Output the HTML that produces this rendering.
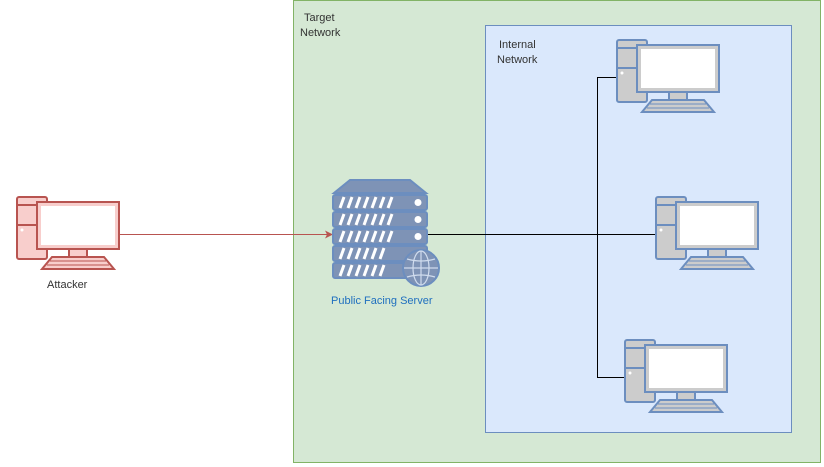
<!DOCTYPE html>
<html><head><meta charset="utf-8"><style>
body{margin:0;background:#fff;width:824px;height:467px;overflow:hidden}
svg{display:block}
text{font-family:"Liberation Sans",Arial,sans-serif;font-size:11px}
</style></head><body>
<svg width="824" height="467" viewBox="0 0 824 467" xmlns="http://www.w3.org/2000/svg">
<defs>
<g id="pcb" stroke="#6c8ebf" stroke-width="2">
 <rect x="0" y="0" width="30" height="62" rx="2" fill="#cccccc"/>
 <line x1="0" y1="8" x2="30" y2="8"/><line x1="0" y1="28" x2="30" y2="28"/>
 <circle cx="5" cy="33" r="1.5" fill="#fff" stroke="none"/>
 <rect x="20" y="5" width="82" height="47" fill="#cccccc"/>
 <rect x="24" y="9" width="74" height="39" fill="#fff" stroke="none"/>
 <rect x="52" y="52" width="18" height="8" fill="#cccccc"/>
 <polygon points="35,60 87,60 97,72 25,72" fill="#cccccc"/>
 <line x1="33" y1="64" x2="89" y2="64" stroke-width="1"/><line x1="30" y1="68" x2="92" y2="68" stroke-width="1"/>
</g>
<g id="pcr" stroke="#b85450" stroke-width="2">
 <rect x="0" y="0" width="30" height="62" rx="2" fill="#f8cecc"/>
 <line x1="0" y1="8" x2="30" y2="8"/><line x1="0" y1="28" x2="30" y2="28"/>
 <circle cx="5" cy="33" r="1.5" fill="#fff" stroke="none"/>
 <rect x="20" y="5" width="82" height="47" fill="#f8cecc"/>
 <rect x="24" y="9" width="74" height="39" fill="#fff" stroke="none"/>
 <rect x="52" y="52" width="18" height="8" fill="#f8cecc"/>
 <polygon points="35,60 87,60 97,72 25,72" fill="#f8cecc"/>
 <line x1="33" y1="64" x2="89" y2="64" stroke-width="1"/><line x1="30" y1="68" x2="92" y2="68" stroke-width="1"/>
</g>
</defs>
<rect x="293.5" y="0.5" width="527" height="462" fill="#d5e8d4" stroke="#82b366"/>
<text x="304" y="21" fill="#333">Target</text><text x="300" y="36" fill="#333">Network</text>
<rect x="485.5" y="25.5" width="306" height="407" fill="#dae8fc" stroke="#6c8ebf"/>
<text x="499" y="48" fill="#333">Internal</text><text x="497" y="63" fill="#333">Network</text>

<g fill="none" stroke="#000" stroke-width="1">
<line x1="428" y1="234.5" x2="597" y2="234.5"/>
<line x1="597.5" y1="77" x2="597.5" y2="377"/>
<line x1="597" y1="77.5" x2="617" y2="77.5"/>
<line x1="597" y1="234.5" x2="656" y2="234.5"/>
<line x1="597" y1="377.5" x2="625" y2="377.5"/>
</g>
<line x1="120" y1="234.5" x2="327" y2="234.5" stroke="#b85450"/>
<polygon points="333,234.5 325,230.5 327,234.5 325,238.5" fill="#b85450"/>

<use href="#pcr" x="17" y="197"/>
<text x="47" y="288" fill="#333">Attacker</text>
<use href="#pcb" x="617" y="40"/>
<use href="#pcb" x="656" y="197"/>
<use href="#pcb" x="625" y="340"/>

<g stroke="#6c8ebf" stroke-width="2" fill="#7e93b6">
 <polygon points="350,180 410,180 426,193 334,193"/>
 <rect x="333" y="195" width="94" height="15" rx="2"/>
 <rect x="333" y="212" width="94" height="15" rx="2"/>
 <rect x="333" y="229" width="94" height="15" rx="2"/>
 <rect x="333" y="246" width="94" height="15" rx="2"/>
 <rect x="333" y="263" width="94" height="15" rx="2"/>
</g>
<g stroke="#fff" stroke-width="3">
 <path d="M340,208l4,-11M348,208l4,-11M356,208l4,-11M364,208l4,-11M372,208l4,-11M380,208l4,-11M388,208l4,-11"/>
 <path d="M340,225l4,-11M348,225l4,-11M356,225l4,-11M364,225l4,-11M372,225l4,-11M380,225l4,-11M388,225l4,-11"/>
 <path d="M340,242l4,-11M348,242l4,-11M356,242l4,-11M364,242l4,-11M372,242l4,-11M380,242l4,-11M388,242l4,-11"/>
 <path d="M340,259l4,-11M348,259l4,-11M356,259l4,-11M364,259l4,-11M372,259l4,-11M380,259l4,-11"/>
 <path d="M340,276l4,-11M348,276l4,-11M356,276l4,-11M364,276l4,-11M372,276l4,-11M380,276l4,-11"/>
</g>
<g fill="#fff"><circle cx="418" cy="202.5" r="3.5"/><circle cx="418" cy="219.5" r="3.5"/><circle cx="418" cy="236.5" r="3.5"/></g>
<g stroke="#6c8ebf" stroke-width="2" fill="#7e93b6">
 <circle cx="421" cy="268" r="18"/>
</g>
<g stroke="#d0dcee" stroke-width="1.2" fill="none">
 <ellipse cx="421" cy="268" rx="8" ry="17"/>
 <line x1="421" y1="251" x2="421" y2="285"/>
 <line x1="404" y1="268" x2="438" y2="268"/>
 <path d="M407,259 Q421,263 435,259 M407,277 Q421,273 435,277"/>
</g>
<text x="331" y="304" fill="#1f6fbf">Public Facing Server</text>
</svg>
</body></html>
